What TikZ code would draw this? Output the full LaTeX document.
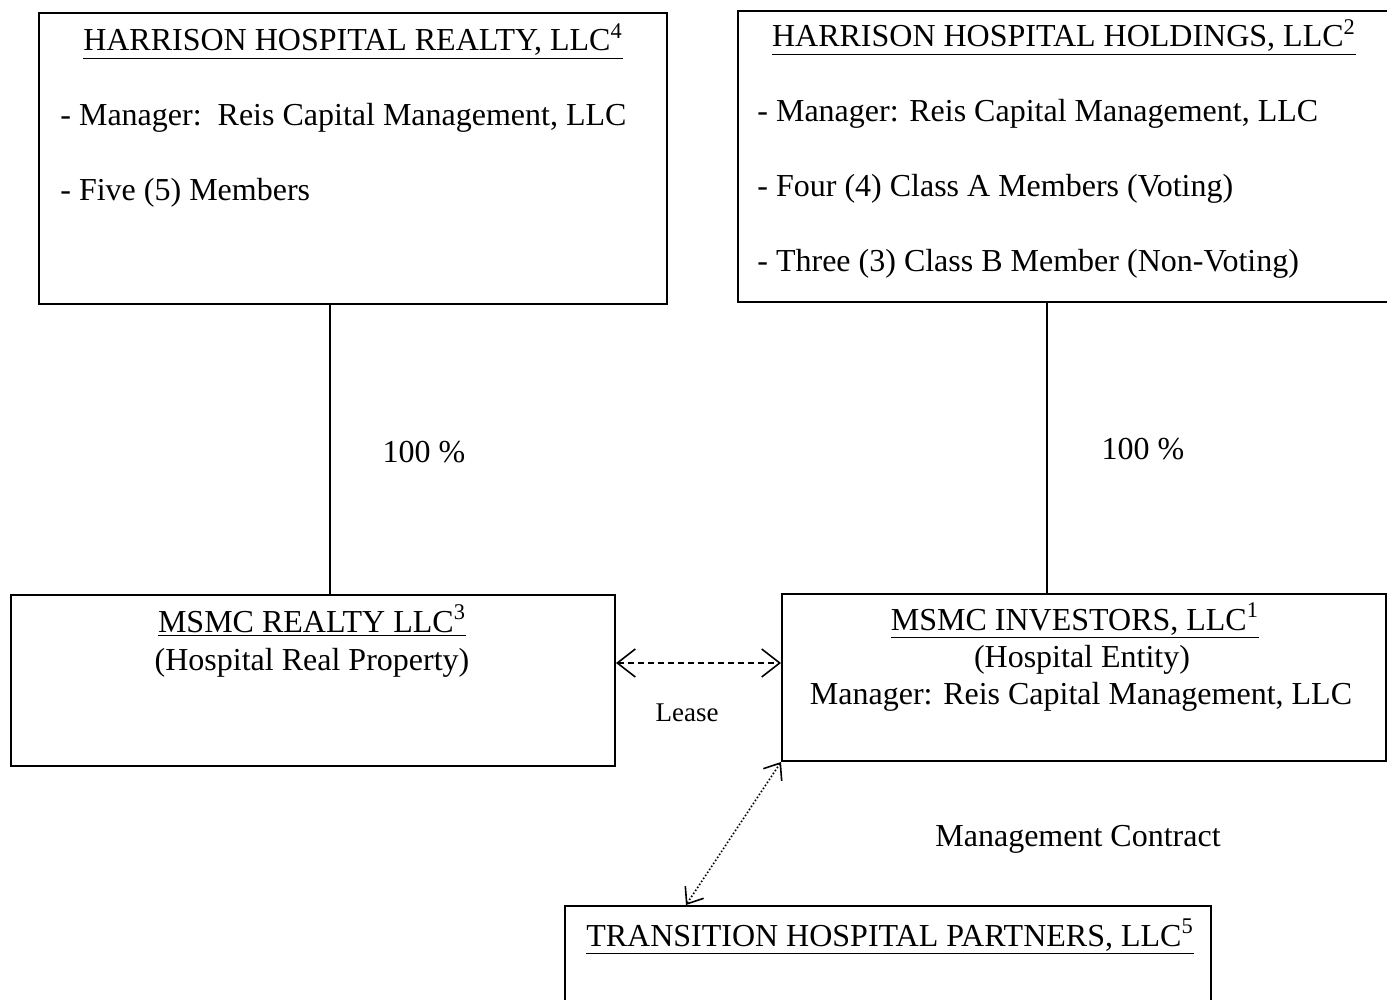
\documentclass[tikz,border=0pt]{standalone}
\usepackage{fontspec}
\setmainfont{Liberation Serif}
\usetikzlibrary{arrows.meta,calc}
\tikzset{
  bigbarb/.tip={Straight Barb[length=9pt,width=14pt,line width=0.8pt]},
  smallbarb/.tip={Straight Barb[length=7pt,width=11pt,line width=0.8pt]}}
\begin{document}
\begin{tikzpicture}[x=0.5pt,y=-0.5pt,
  box/.style={draw,line width=1pt,rectangle,inner sep=0pt,anchor=north west},
  txt/.style={inner sep=0pt,anchor=base west,font=\fontsize{16}{18}\selectfont},
  ctxt/.style={inner sep=0pt,anchor=base,font=\fontsize{16}{18}\selectfont},
  link/.style={line width=0.8pt}]
\clip (0,0) rectangle (1387,1000);
\useasboundingbox (0,0) rectangle (1387,1000);
% boxes
\node[box,minimum width=314pt,minimum height=145.5pt] (hr) at (38,12) {};
\node[box,minimum width=330pt,minimum height=145.5pt] (hh) at (737,10) {};
\node[box,minimum width=302pt,minimum height=85.5pt] (mr) at (10,594) {};
\node[box,minimum width=302pt,minimum height=83.5pt] (mi) at (781,593) {};
\node[box,minimum width=323pt,minimum height=60pt] (tp) at (564,905) {};
% texts
\node[ctxt] (hrt) at (353,51) {\underline{HARRISON HOSPITAL REALTY, LLC\textsuperscript{4}}};
\node[txt] (hr1) at (60,126) {- Manager:\ \ Reis Capital Management, LLC};
\node[txt] (hr2) at (60,201) {- Five (5) Members};
\node[ctxt] (hht) at (1064,47) {\underline{HARRISON HOSPITAL HOLDINGS, LLC\textsuperscript{2}}};
\node[txt] (hh1) at (757,122) {- Manager: Reis Capital Management, LLC};
\node[txt] (hh2) at (757,197) {- Four (4) Class A Members (Voting)};
\node[txt] (hh3) at (757,272) {- Three (3) Class B Member (Non-Voting)};
\node[ctxt] (mrt) at (312,632) {\underline{MSMC REALTY LLC\textsuperscript{3}}};
\node[ctxt] (mr1) at (312,670) {(Hospital Real Property)};
\node[ctxt] (mit) at (1075,630) {\underline{MSMC INVESTORS, LLC\textsuperscript{1}}};
\node[ctxt] (mi1) at (1082,667) {(Hospital Entity)};
\node[ctxt] (mi2) at (1081,704) {Manager: Reis Capital Management, LLC};
\node[ctxt] (tpt) at (890,946) {\underline{TRANSITION HOSPITAL PARTNERS, LLC\textsuperscript{5}}};
\node[ctxt] (p1) at (424,462) {100 \%};
\node[ctxt] (p2) at (1143,459) {100 \%};
\node[ctxt,font=\fontsize{13.5}{15}\selectfont] (ls) at (687,721) {Lease};
\node[ctxt] (mc) at (1078,846) {Management Contract};
% connectors
\draw[link] (330,0 |- hr.south) -- (330,0 |- mr.north);
\draw[link] (1047,0 |- hh.south) -- (1047,0 |- mi.north);
\draw[link,densely dashed,{bigbarb}-{bigbarb}] (mr.east |- 0,663) -- (mi.west |- 0,663);
\draw[link,densely dotted,{smallbarb}-{smallbarb}] (mi.south west) -- (686,0 |- tp.north);
\end{tikzpicture}
\end{document}
